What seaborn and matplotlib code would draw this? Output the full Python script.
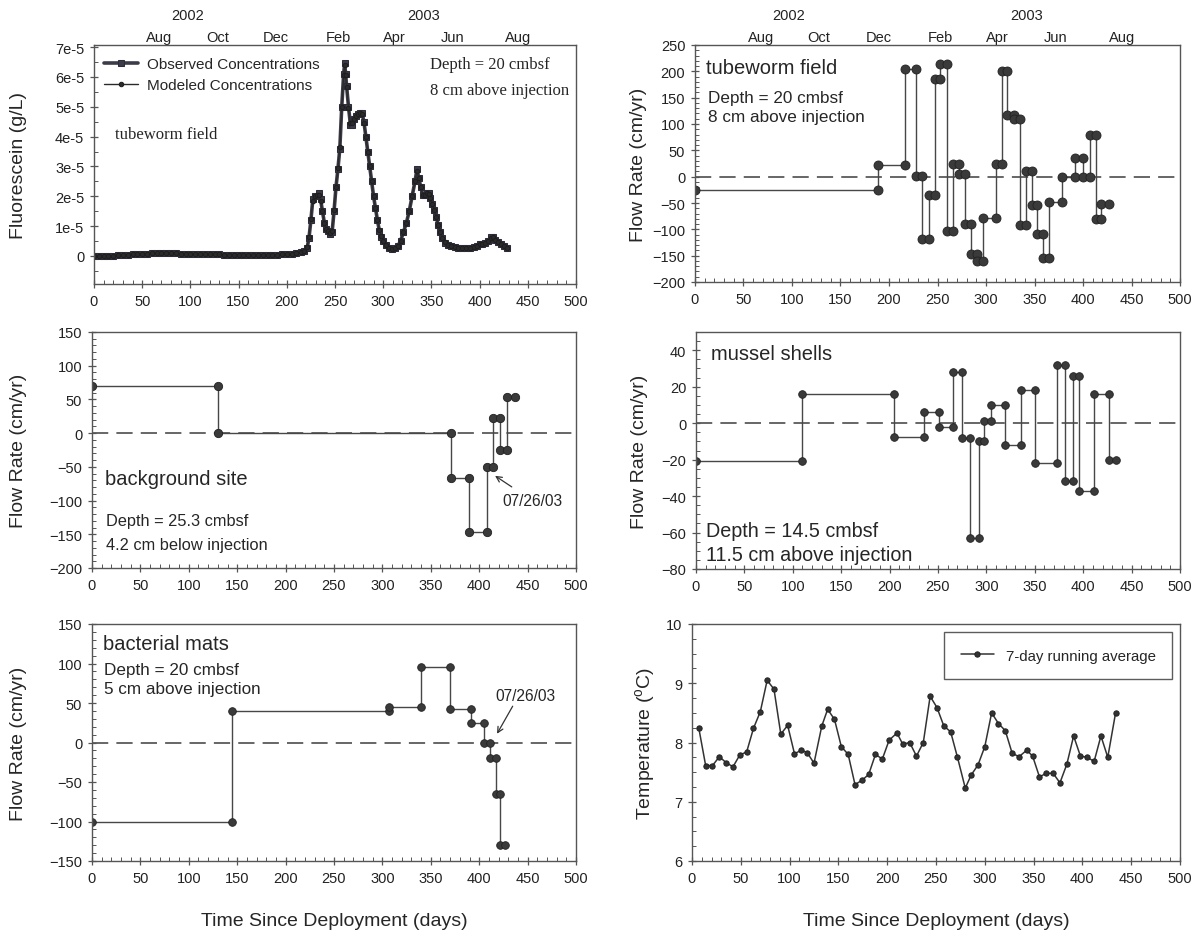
import numpy as np
import matplotlib
matplotlib.use("Agg")
import matplotlib.pyplot as plt
from matplotlib.ticker import MultipleLocator, FixedLocator
import seaborn as sns

# ---------------- data ----------------
# Fluorescein (units of 1e-5 g/L)
flu_days = [0, 5, 10, 15, 20, 25, 30, 35, 40, 45, 50, 55, 60, 65, 70, 75, 80, 85, 90, 95,
            100, 105, 110, 115, 120, 125, 130, 135, 140, 145, 150, 155, 160, 165, 170, 175,
            180, 185, 190, 195, 200, 205, 210, 215,
            218, 221, 223, 225, 227, 229, 231, 233, 235, 237, 239, 241, 243, 245, 247, 249,
            251, 253, 255, 257, 259, 260, 261, 262, 264, 266, 268, 270, 272, 274, 276, 278,
            280, 282, 284, 286, 288, 290, 292, 294, 296, 298, 300, 303, 306, 309, 312, 315,
            318, 321, 324, 327, 330, 333, 335, 337, 339, 341, 343, 345, 347, 349, 351, 353,
            355, 357, 359, 361, 364, 367, 370, 374, 378, 382, 386, 390, 394, 397, 400, 403,
            406, 409, 412, 414, 416, 419, 422, 425, 428]
flu_observed = [0.00, 0.00, 0.00, 0.01, 0.01, 0.02, 0.03, 0.04, 0.05, 0.06, 0.07, 0.08, 0.09,
                0.10, 0.10, 0.10, 0.09, 0.09, 0.08, 0.08, 0.06, 0.05, 0.05, 0.06, 0.06, 0.05,
                0.05, 0.04, 0.03, 0.03, 0.02, 0.02, 0.02, 0.02, 0.02, 0.02, 0.03, 0.03, 0.04,
                0.05, 0.06, 0.08, 0.10, 0.12,
                0.15, 0.25, 0.60, 1.20, 1.90, 2.00, 2.00, 2.10, 1.90, 1.50, 1.10, 0.90, 0.85,
                0.75, 0.80, 1.50, 2.30, 2.90, 3.60, 5.00, 6.10, 6.45, 6.10, 5.70, 5.00, 4.40,
                4.40, 4.60, 4.70, 4.75, 4.80, 4.80, 4.50, 4.00, 3.50, 3.00, 2.50, 2.00, 1.60,
                1.20, 0.85, 0.65, 0.50, 0.38, 0.28, 0.22, 0.25, 0.32, 0.50, 0.80, 1.10, 1.50,
                2.00, 2.50, 2.90, 2.60, 2.30, 2.05, 2.05, 2.10, 2.10, 1.95, 1.75, 1.55, 1.30,
                1.05, 0.80, 0.60, 0.45, 0.38, 0.33, 0.30, 0.28, 0.27, 0.27, 0.28, 0.30, 0.35,
                0.40, 0.40, 0.42, 0.50, 0.62, 0.62, 0.55, 0.47, 0.40, 0.33, 0.27]
flu_modeled = [0.00, 0.00, 0.00, 0.01, 0.01, 0.02, 0.03, 0.04, 0.05, 0.06, 0.07, 0.08, 0.09,
               0.10, 0.10, 0.10, 0.09, 0.09, 0.08, 0.08, 0.06, 0.05, 0.05, 0.06, 0.06, 0.05,
               0.05, 0.04, 0.03, 0.03, 0.02, 0.02, 0.02, 0.02, 0.02, 0.02, 0.03, 0.03, 0.04,
               0.05, 0.06, 0.08, 0.10, 0.12,
               0.16, 0.30, 0.65, 1.25, 1.85, 2.00, 2.05, 2.05, 1.85, 1.50, 1.10, 0.92, 0.85,
               0.78, 0.85, 1.55, 2.30, 2.95, 3.65, 5.00, 6.05, 6.40, 6.05, 5.65, 4.95, 4.45,
               4.45, 4.60, 4.70, 4.75, 4.80, 4.75, 4.45, 4.00, 3.50, 3.00, 2.50, 2.00, 1.60,
               1.20, 0.88, 0.66, 0.50, 0.38, 0.28, 0.23, 0.26, 0.33, 0.50, 0.80, 1.10, 1.50,
               2.00, 2.50, 2.85, 2.60, 2.30, 2.05, 2.05, 2.10, 2.08, 1.95, 1.75, 1.55, 1.30,
               1.05, 0.80, 0.60, 0.46, 0.38, 0.33, 0.30, 0.28, 0.27, 0.27, 0.28, 0.30, 0.35,
               0.40, 0.40, 0.42, 0.50, 0.60, 0.62, 0.55, 0.47, 0.40, 0.33, 0.28]
flu_ticks = [0, 1e-5, 2e-5, 3e-5, 4e-5, 5e-5, 6e-5, 7e-5]
flu_ticklabels = ["0", "1e-5", "2e-5", "3e-5", "4e-5", "5e-5", "6e-5", "7e-5"]

# Flow rate step series: interval boundaries (days) and rate in each interval (cm/yr)
tube_bounds = [0, 189, 216, 228, 234, 241, 247, 253, 260, 266, 272, 278, 285, 291, 297, 310,
               316, 322, 329, 335, 341, 347, 353, 359, 365, 378, 392, 400, 407, 413, 419, 427]
tube_rates = [-25, 22, 204, 1, -119, -35, 185, 214, -103, 25, 5, -89, -147, -160, -79, 25,
              200, 117, 109, -92, 10, -53, -109, -154, -49, 0, 35, 0, 79, -80, -52]

bg_bounds = [0, 130, 371, 389, 408, 414, 421, 429, 437]
bg_rates = [70, 0, -66, -146, -50, 22, -25, 54]

mussel_bounds = [0, 110, 205, 236, 251, 265, 275, 283, 292, 298, 305, 319, 336, 350, 373,
                 381, 389, 396, 411, 427, 434]
mussel_rates = [-21, 16, -7.5, 6, -2, 28, -8, -63, -10, 1, 10, -12, 18, -22, 32, -32, 26,
                -37, 16, -20]

bact_bounds = [0, 145, 307, 340, 370, 392, 405, 411, 417, 421, 427]
bact_rates = [-100, 40, 45, 96, 42, 25, 0, -20, -65, -130]

# Temperature, 7-day running average
temp_days = [7, 14, 21, 28, 35, 42, 49, 56, 63, 70, 77, 84, 91, 98, 105, 112, 118, 125, 133,
             139, 146, 153, 160, 167, 174, 181, 188, 195, 202, 210, 216, 223, 230, 237, 244,
             251, 258, 265, 272, 280, 286, 293, 300, 307, 314, 321, 328, 335, 343, 349, 356,
             363, 370, 377, 384, 391, 398, 405, 412, 419, 426, 434]
temp_vals = [8.24, 7.61, 7.61, 7.76, 7.66, 7.59, 7.79, 7.84, 8.24, 8.52, 9.05, 8.90, 8.14,
             8.29, 7.81, 7.87, 7.83, 7.65, 8.28, 8.56, 8.39, 7.93, 7.80, 7.29, 7.36, 7.46,
             7.80, 7.72, 8.04, 8.16, 7.97, 8.00, 7.77, 8.00, 8.78, 8.59, 8.28, 8.18, 7.75,
             7.23, 7.45, 7.62, 7.93, 8.50, 8.32, 8.20, 7.82, 7.76, 7.87, 7.77, 7.42, 7.48,
             7.48, 7.32, 7.63, 8.11, 7.77, 7.75, 7.68, 8.11, 7.75, 8.50]

month_days = [68, 128, 189, 253, 312, 372, 440]
month_labels = ["Aug", "Oct", "Dec", "Feb", "Apr", "Jun", "Aug"]
year_days = [97, 342]
year_labels = ["2002", "2003"]

# ---------------- style ----------------
sns.set_style("white")
plt.rcParams["font.family"] = ["Liberation Sans", "DejaVu Sans"]
plt.rcParams["mathtext.fontset"] = "custom"
plt.rcParams["mathtext.rm"] = "Liberation Sans"

W, H = 1201, 937
fig = plt.figure(figsize=(W / 100, H / 100), dpi=100)
fig.patch.set_facecolor("white")

def box(x0, x1, y0, y1):
    return [x0 / W, (H - y1) / H, (x1 - x0) / W, (y1 - y0) / H]

ax_flu = fig.add_axes(box(94, 576, 46, 285))
ax_tube = fig.add_axes(box(695, 1180, 46, 283))
ax_bg = fig.add_axes(box(92, 576, 333, 569))
ax_mus = fig.add_axes(box(696, 1180, 333, 570))
ax_bact = fig.add_axes(box(92, 576, 625, 862))
ax_temp = fig.add_axes(box(692, 1180, 625, 862))

LINE = "#474747"
DOT = "#3a3a3a"
SPINE = "#555555"

def style_axes(ax, yminor=None):
    ax.set_xlim(0, 500)
    ax.xaxis.set_major_locator(MultipleLocator(50))
    ax.xaxis.set_minor_locator(MultipleLocator(10))
    if yminor is not None:
        ax.yaxis.set_minor_locator(MultipleLocator(yminor))
    for sp in ax.spines.values():
        sp.set_visible(True)
        sp.set_color(SPINE)
        sp.set_linewidth(1.0)
    ax.tick_params(axis="both", which="major", direction="inout", length=6, width=0.9,
                   color=SPINE, labelsize=10.5, pad=4, labelcolor="#222222")
    ax.tick_params(axis="both", which="minor", direction="in", length=3, width=0.7,
                   color=SPINE)
    ax.tick_params(which="both", bottom=True, left=True, top=False, right=False)
    ax.set_facecolor("white")

def steps(bounds, vals):
    xs, ys = [], []
    for i, v in enumerate(vals):
        xs += [bounds[i], bounds[i + 1]]
        ys += [v, v]
    return np.array(xs, dtype=float), np.array(ys, dtype=float)

def flow_plot(ax, bounds, vals, ms=6):
    xs, ys = steps(bounds, vals)
    sns.lineplot(x=xs, y=ys, estimator=None, sort=False, ax=ax, color=LINE, lw=1.0,
                 marker="o", markersize=ms, markerfacecolor=DOT, markeredgecolor="#222222",
                 markeredgewidth=0.6)
    ax.axhline(0, color="#5a5a5a", lw=1.3, ls=(0, (9, 4.5)), zorder=0)

def month_axis(ax):
    sec = ax.secondary_xaxis("top")
    sec.xaxis.set_major_locator(FixedLocator(month_days))
    sec.set_xticklabels(month_labels)
    sec.tick_params(length=0, pad=1, labelsize=10.5, labelcolor="#222222")
    sec.spines["top"].set_visible(False)
    for d, lab in zip(year_days, year_labels):
        ax.text(d, 1.125, lab, transform=ax.get_xaxis_transform(), ha="center",
                va="center", fontsize=10.5, color="#222222")

LABEL_FS = 14

# ---- Fluorescein ----
ax = ax_flu
style_axes(ax)
obs = np.array(flu_observed) * 1e-5
mod = np.array(flu_modeled) * 1e-5
sns.lineplot(x=flu_days, y=obs, estimator=None, sort=False, ax=ax, color="#3b3b4a", lw=2.6,
             marker="s", markersize=4, markeredgecolor="#2d2d3a",
             label="Observed Concentrations")
sns.lineplot(x=flu_days, y=mod, estimator=None, sort=False, ax=ax, color="#2a2a2a", lw=1.0,
             marker="o", markersize=3.2, markeredgecolor="#1e1e1e",
             label="Modeled Concentrations")
ax.set_ylim(-0.94e-5, 7.07e-5)
ax.yaxis.set_major_locator(FixedLocator(flu_ticks))
ax.set_yticklabels(flu_ticklabels)
ax.yaxis.set_minor_locator(MultipleLocator(0.5e-5))
ax.legend(loc="upper left", frameon=False, fontsize=11, handlelength=2.2,
          handletextpad=0.6, borderaxespad=0.25, labelspacing=0.45, bbox_to_anchor=(0.0, 0.99))
ax.set_ylabel("Fluorescein (g/L)", fontsize=LABEL_FS)
ax.yaxis.set_label_coords(-0.139, 0.5)
ax.set_xlabel("")
ax.text(22, 4.09e-5, "tubeworm field", family=["Liberation Serif", "DejaVu Serif"],
        fontsize=12, va="center", ha="left")
ax.text(349, 6.43e-5, "Depth = 20 cmbsf", family=["Liberation Serif", "DejaVu Serif"],
        fontsize=12, va="center", ha="left")
ax.text(349, 5.56e-5, "8 cm above injection", family=["Liberation Serif", "DejaVu Serif"],
        fontsize=12, va="center", ha="left")
month_axis(ax)

# ---- Tubeworm flow ----
ax = ax_tube
style_axes(ax, yminor=10)
flow_plot(ax, tube_bounds, tube_rates, ms=6.5)
ax.set_ylim(-200, 250)
ax.yaxis.set_major_locator(MultipleLocator(50))
ax.set_ylabel("Flow Rate (cm/yr)", fontsize=LABEL_FS)
ax.yaxis.set_label_coords(-0.099, 0.5)
ax.text(11, 207, "tubeworm field", fontsize=14.5, va="center", ha="left")
ax.text(13, 150, "Depth = 20 cmbsf", fontsize=12.3, va="center", ha="left")
ax.text(13, 114, "8 cm above injection", fontsize=12.3, va="center", ha="left")
month_axis(ax)

# ---- Background site ----
ax = ax_bg
style_axes(ax, yminor=10)
flow_plot(ax, bg_bounds, bg_rates, ms=6)
ax.set_ylim(-200, 150)
ax.yaxis.set_major_locator(MultipleLocator(50))
ax.set_ylabel("Flow Rate (cm/yr)", fontsize=LABEL_FS)
ax.yaxis.set_label_coords(-0.134, 0.5)
ax.text(13.5, -68, "background site", fontsize=14.5, va="center", ha="left")
ax.text(14.7, -130, "Depth = 25.3 cmbsf", fontsize=11.8, va="center", ha="left")
ax.text(14.7, -165, "4.2 cm below injection", fontsize=11.8, va="center", ha="left")
ax.annotate("", xy=(414, -61), xytext=(436, -82),
            arrowprops=dict(arrowstyle="->", lw=0.9, color="#333333"))
ax.text(455, -100, "07/26/03", fontsize=11.2, ha="center", va="center")

# ---- Mussel shells ----
ax = ax_mus
style_axes(ax, yminor=5)
flow_plot(ax, mussel_bounds, mussel_rates, ms=5.5)
ax.set_ylim(-80, 50)
ax.yaxis.set_major_locator(FixedLocator([-80, -60, -40, -20, 0, 20, 40]))
ax.set_ylabel("Flow Rate (cm/yr)", fontsize=LABEL_FS)
ax.yaxis.set_label_coords(-0.099, 0.5)
ax.text(16, 38, "mussel shells", fontsize=14.5, va="center", ha="left")
ax.text(10, -59, "Depth = 14.5 cmbsf", fontsize=14.2, va="center", ha="left")
ax.text(10, -72, "11.5 cm above injection", fontsize=14.2, va="center", ha="left")

# ---- Bacterial mats ----
ax = ax_bact
style_axes(ax, yminor=10)
flow_plot(ax, bact_bounds, bact_rates, ms=5.5)
ax.set_ylim(-150, 150)
ax.yaxis.set_major_locator(MultipleLocator(50))
ax.set_ylabel("Flow Rate (cm/yr)", fontsize=LABEL_FS)
ax.yaxis.set_label_coords(-0.134, 0.5)
ax.set_xlabel("Time Since Deployment (days)", fontsize=LABEL_FS)
ax.xaxis.set_label_coords(0.5, -0.215)
ax.text(11.5, 125, "bacterial mats", fontsize=14.5, va="center", ha="left")
ax.text(12, 92, "Depth = 20 cmbsf", fontsize=12.3, va="center", ha="left")
ax.text(12, 68, "5 cm above injection", fontsize=12.3, va="center", ha="left")
ax.annotate("", xy=(417, 8), xytext=(436, 49),
            arrowprops=dict(arrowstyle="->", lw=0.9, color="#333333"))
ax.text(448, 60, "07/26/03", fontsize=11.2, ha="center", va="center")

# ---- Temperature ----
ax = ax_temp
style_axes(ax, yminor=0.25)
sns.lineplot(x=temp_days, y=temp_vals, estimator=None, sort=False, ax=ax, color="#333333",
             lw=1.1, marker="o", markersize=3.8, markeredgecolor="#222222",
             label="7-day running average")
ax.set_ylim(6, 10)
ax.yaxis.set_major_locator(MultipleLocator(1))
ax.set_ylabel("Temperature ($\\mathrm{^{o}}$C)", fontsize=LABEL_FS)
ax.yaxis.set_label_coords(-0.072, 0.5)
ax.set_xlabel("Time Since Deployment (days)", fontsize=LABEL_FS)
ax.xaxis.set_label_coords(0.5, -0.215)
leg = ax.legend(loc="upper right", bbox_to_anchor=(1 - 8 / 488, 1 - 8 / 237),
                borderaxespad=0, frameon=True, fancybox=False, fontsize=10.8,
                borderpad=1.1, handlelength=2.2, handletextpad=0.8)
leg.get_frame().set_edgecolor("#333333")
leg.get_frame().set_linewidth(1.0)

fig.savefig("out.png", dpi=100, facecolor="white")
